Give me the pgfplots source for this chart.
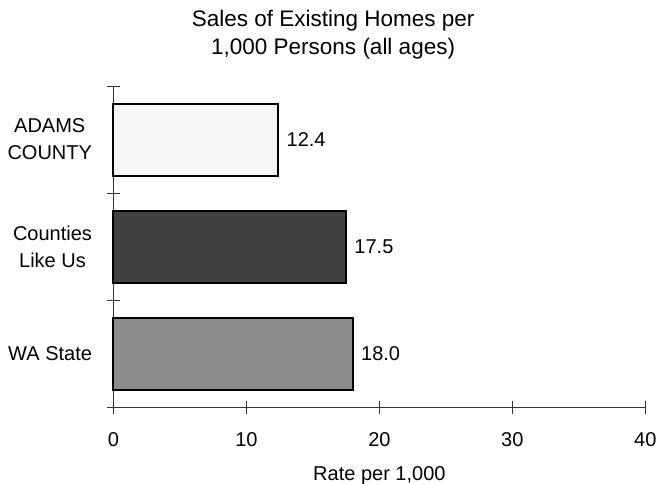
\documentclass[border=0pt]{standalone}
\usepackage{pgfplots}
\pgfplotsset{compat=1.18}
\usepackage{fontspec}
\setmainfont{Liberation Sans}
\definecolor{barA}{HTML}{F7F7F7}
\definecolor{barB}{HTML}{404040}
\definecolor{barC}{HTML}{8C8C8C}
\definecolor{axisgray}{HTML}{333333}
\begin{document}
\begin{tikzpicture}
\path[use as bounding box] (-113.5pt,-76.5pt) rectangle (544.5pt,407.5pt);
\begin{axis}[
  scale only axis,
  width=531.8pt, height=321.5pt,
  at={(0,0)}, anchor=south west,
  xmin=0, xmax=40, ymin=0.5, ymax=3.5,
  xbar, bar width=72pt, bar shift=0pt,
  axis x line=bottom, axis y line=left,
  axis line style={-, draw=axisgray, line width=1pt},
  xtick={0,10,20,30,40},
  ytick={0.5,1.5,2.5,3.5},
  yticklabels={},
  extra y ticks={1,2,3},
  extra y tick labels={WA State,{Counties\\Like Us},{ADAMS\\COUNTY}},
  extra y tick style={major tick length=0pt, tick style={draw=none}},
  tick style={draw=axisgray, line width=0.8pt},
  major tick length=13pt,
  tick align=center,
  /pgf/number format/assume math mode=true,
  tick label style={font=\fontsize{20}{24}\selectfont},
  xticklabel style={yshift=-15pt},
  yticklabel style={align=center, font=\fontsize{20}{27}\selectfont, xshift=-18pt},
  xlabel={Rate per 1,000},
  xlabel style={font=\fontsize{20}{24}\selectfont, yshift=-13pt},
  title={Sales of Existing Homes per\\1,000 Persons (all ages)},
  title style={align=center, font=\fontsize{22.5}{28}\selectfont, at={(0.413,1)}, anchor=south, inner sep=0pt, yshift=21pt},
  nodes near coords,
  nodes near coords style={font=\fontsize{20}{24}\selectfont, anchor=west, xshift=4pt, /pgf/number format/.cd, fixed, fixed zerofill, precision=1, assume math mode=true},
  every axis plot/.append style={draw=black, line width=2pt},
  clip=false,
]
\addplot[fill=barC] coordinates {(18.0,1)};
\addplot[fill=barB] coordinates {(17.5,2)};
\addplot[fill=barA] coordinates {(12.4,3)};
\end{axis}
\end{tikzpicture}
\end{document}
